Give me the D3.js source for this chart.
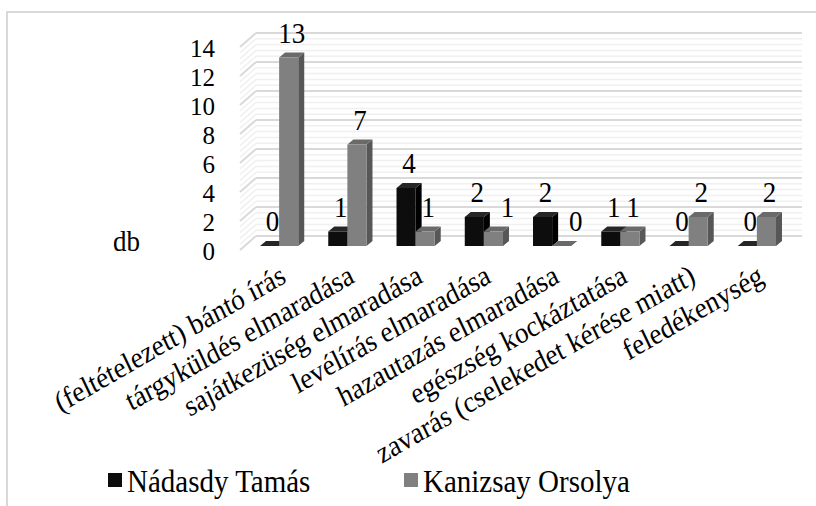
<!DOCTYPE html>
<html>
<head>
<meta charset="utf-8">
<script src="https://cdn.jsdelivr.net/npm/d3@7"></script>
<style>
  body { margin: 0; background: #fff; }
</style>
</head>
<body>
<div id="chart"></div>
<script>
var categories = [
	"(feltételezett) bántó írás",
	"tárgyküldés elmaradása",
	"sajátkezüség elmaradása",
	"levélírás elmaradása",
	"hazautazás elmaradása",
	"egészség kockáztatása",
	"zavarás (cselekedet kérése miatt)",
	"feledékenység"
];
var nadasdy = [0, 1, 4, 2, 2, 1, 0, 0];
var kanizsay = [13, 7, 1, 1, 0, 1, 2, 2];
var seriesNames = ["Nádasdy Tamás", "Kanizsay Orsolya"];
var yTicks = [0, 2, 4, 6, 8, 10, 12, 14];
var axisTitle = "db";

var width = 816;
var height = 506;
var font = "'Liberation Serif', 'DejaVu Serif', serif";
var stretch = 1.1; // text in the original looks a bit taller than wide

// 3d offsets: wall depth and bar depth
var wallDx = 16, wallDy = -14;
var barShiftX = 5, barShiftY = -4;
var barDx = 6, barDy = -5;

var svg = d3.select("#chart").append("svg")
	.attr("width", width)
	.attr("height", height)
	.attr("font-family", font);

// put a text at (px,py), optionally stretched vertically
function addText(g, px, py, str, size, anchor, sy) {
	return g.append("text")
		.attr("transform", "translate(" + px + "," + py + ") scale(1," + (sy || stretch) + ")")
		.attr("dy", "0.35em")
		.attr("text-anchor", anchor || "start")
		.attr("font-family", font)
		.attr("font-size", size)
		.text(str);
}

// chart border
svg.append("rect")
	.attr("x", 7).attr("y", 12)
	.attr("width", 900).attr("height", 600)
	.attr("fill", "none")
	.attr("stroke", "#d9d9d9")
	.attr("stroke-width", 2);

// scales (front plane)
var y = d3.scaleLinear().domain([0, 14]).range([250, 47]);
var x = d3.scaleBand().domain(categories).range([240, 786]).paddingInner(0.44).paddingOuter(0.22);

// minor + major gridlines on the back wall and side wall
var minor = d3.range(0, 14.001, 0.4);
var gridG = svg.append("g");
minor.forEach(function(v) {
	var isMajor = Math.abs(v / 2 - Math.round(v / 2)) < 1e-6;
	var col = isMajor ? "#d9d9d9" : "#f0f0f0";
	var sw = isMajor ? 2 : 1.5;
	var yf = y(v);
	gridG.append("line")
		.attr("x1", x.range()[0] + wallDx).attr("x2", x.range()[1] + wallDx)
		.attr("y1", yf + wallDy).attr("y2", yf + wallDy)
		.attr("stroke", col).attr("stroke-width", sw);
	gridG.append("line")
		.attr("x1", x.range()[0]).attr("x2", x.range()[0] + wallDx)
		.attr("y1", yf).attr("y2", yf + wallDy)
		.attr("stroke", col).attr("stroke-width", sw);
});

// y tick labels
yTicks.forEach(function(d) {
	addText(svg, 215, y(d) + 1, d, 25, "end", 1);
});
addText(svg, 113, 241, axisTitle, 27);

// bars
var colors = [
	{ front: "#0d0d0d", top: "#262626", side: "#000000" },
	{ front: "#808080", top: "#6a6a6a", side: "#575757" }
];
var bw = x.bandwidth() / 2;

function drawBar(g, x0, v, c) {
	var yb = y(0) + barShiftY;
	var yt = y(v) + barShiftY;
	var xl = x0 + barShiftX;
	var xr = xl + bw;
	// side
	g.append("path")
		.attr("d", "M" + xr + "," + yb + "L" + (xr + barDx) + "," + (yb + barDy) +
			"L" + (xr + barDx) + "," + (yt + barDy) + "L" + xr + "," + yt + "Z")
		.attr("fill", c.side);
	// top
	g.append("path")
		.attr("d", "M" + xl + "," + yt + "L" + (xl + barDx) + "," + (yt + barDy) +
			"L" + (xr + barDx) + "," + (yt + barDy) + "L" + xr + "," + yt + "Z")
		.attr("fill", c.top);
	// front
	if (v > 0) {
		g.append("rect")
			.attr("x", xl).attr("y", yt)
			.attr("width", bw).attr("height", yb - yt)
			.attr("fill", c.front);
	}
}

var barsG = svg.append("g");
categories.forEach(function(cat, i) {
	var x0 = x(cat);
	drawBar(barsG, x0, nadasdy[i], colors[0]);
	drawBar(barsG, x0 + bw, kanizsay[i], colors[1]);
});

// value labels
var labelsG = svg.append("g");
categories.forEach(function(cat, i) {
	var x0 = x(cat) + barShiftX + barDx / 2;
	var a = nadasdy[i], b = kanizsay[i];
	var ya = y(a) + barShiftY - 25;
	var yb = y(b) + barShiftY - 25;
	var shift = (a > b && Math.abs(ya - yb) < 30) ? 11 : 0;
	addText(labelsG, x0 + bw / 2, ya, a, 27, "middle");
	addText(labelsG, x0 + bw * 1.5 + shift, yb, b, 27, "middle");
});

// category labels, rotated (screen angle about 30 deg after the stretch)
var rot = Math.atan(Math.tan(30 * Math.PI / 180) / stretch) * 180 / Math.PI;
svg.selectAll(".xlab").data(categories).enter()
	.append("text")
	.attr("class", "xlab")
	.attr("text-anchor", "end")
	.attr("transform", function(d) {
		var cx = x(d) + x.bandwidth() / 2 + 4;
		return "translate(" + cx + ",262) scale(1," + stretch + ") rotate(" + (-rot) + ")";
	})
	.attr("dy", "0.75em")
	.attr("font-family", font)
	.attr("font-size", 27)
	.text(function(d) { return d; });

// legend
var legendX = [108, 404];
seriesNames.forEach(function(name, i) {
	svg.append("rect")
		.attr("x", legendX[i]).attr("y", 473)
		.attr("width", 14).attr("height", 14)
		.attr("fill", colors[i].front);
	addText(svg, legendX[i] + 19, 481, name, 29);
});
</script>
</body>
</html>
